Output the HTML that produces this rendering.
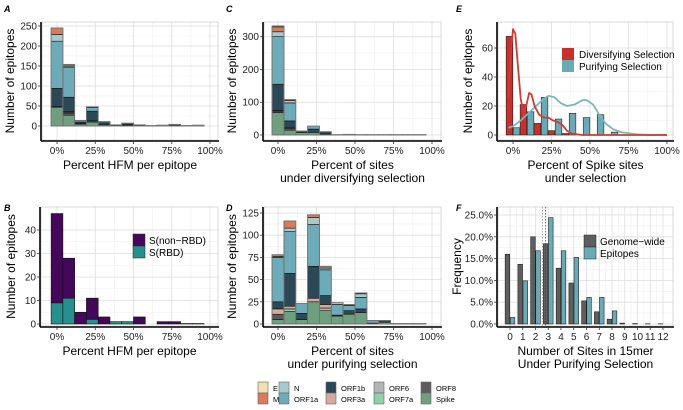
<!DOCTYPE html>
<html><head><meta charset="utf-8">
<style>
body{margin:0;background:#fff;}
svg{display:block;font-family:"Liberation Sans",sans-serif;}
</style></head>
<body>
<svg id="fig" width="683" height="410" viewBox="0 0 683 410" xmlns="http://www.w3.org/2000/svg"></svg>
<script>
// ---------- DATA ----------
const genes = ["Spike","ORF8","ORF7a","ORF6","ORF3a","ORF1b","ORF1a","N","M","E"];
const geneColors = {Spike:"#6f9f7f",ORF8:"#5c5c5c",ORF7a:"#8fcfaa",ORF6:"#b5b5b5",ORF3a:"#d8a89a",ORF1b:"#2c4756",ORF1a:"#6eabb9",N:"#a9cacc",M:"#d97b59",E:"#f0e2b0"};
const binPct = [0,7.69,15.38,23.08,30.77,38.46,46.15,53.85,61.54,69.23,76.92,84.62,92.31];
// Panel A stacks per bin: [Spike,ORF8,ORF7a,ORF6,ORF3a,ORF1b,ORF1a,N,M,E]
const aStacks = [
 [47,2,0,0,0,45,118,17,16,0],
 [27,5,0,2,2,36,75,3,4,0],
 [5,1,0,0,0,4,4,0,0,0],
 [10,3,0,0,0,24,9,2,0,0],
 [3,0,0,0,0,5,3,0,0,0],
 [1,0,0,0,0,2,0,0,0,0],
 [2,0,0,0,0,3,0,0,2,0],
 [1,0,0,0,0,2,0,0,0,0],
 [0,0,0,0,0,1,0,0,0,0],
 [0,0,0,0,0,2,0,0,0,0],
 [1,0,0,0,0,3,0,0,0,0],
 [0,0,0,0,0,1,0,0,0,0],
 [0,0,0,0,0,2,0,0,0,0]];
const cStacks = [
 [68,5,0,0,2,80,145,15,15,3],
 [15,5,0,0,3,20,55,7,3,0],
 [8,0,0,0,0,4,0,0,0,0],
 [8,0,0,0,0,10,9,0,0,0],
 [3,0,0,0,0,7,0,0,0,0],
 [0,0,0,0,0,1,0,0,0,0],
 [0,0,0,0,0,2,0,0,0,0],
 [0,0,0,0,0,1,0,0,0,0],
 [0,0,0,0,0,1,0,0,0,0],
 [0,0,0,0,0,1,0,0,0,0],
 [0,0,0,0,0,1,0,0,0,0],
 [0,0,0,0,0,1,0,0,0,0],
 [0,0,0,0,0,1,0,0,0,0]];
const dStacks = [
 [5,6,0,0,6,8,50,1,2,0],
 [14,0,3,0,3,37,47,4,8,0],
 [5,0,0,0,0,7,11,0,0,0],
 [25,0,0,0,4,36,47,8,3,0],
 [15,0,0,3,4,10,29,2,2,0],
 [9,0,0,0,0,1,12,2,0,0],
 [11,0,0,0,0,4,6,0,1,0],
 [13,0,0,0,0,4,13,4,1,0],
 [1,0,0,0,0,0,3,0,0,0],
 [2,0,0,0,0,2,0,0,0,0],
 [0,0,0,0,0,0.5,0,0,0,0],
 [0,0,0,0,0,0.5,0,0,0,0],
 [0,0,0,0,0,0.5,0,0,0,0]];
const bRBD = [9,11,0,2,0,1,1,0,0,0,0,0,0];
const bNonRBD = [38,17,5,9,3,0,0,3,0,1,1,0.2,0.2];
// Panel E
const eBinPct = [0,9.09,18.18,27.27,36.36,45.45,54.55,63.64];
const eDiv = [68,21,8,3,1,0,0,0];
const ePur = [5,16,26,11,15,12,14,2];
const eDivCurveX = [-3,-1.5,0,1.5,3,5,7,9,10.5,12,14,17,20,23,26,29,32,35,38,45,60,80,100];
const eDivCurveY = [26,55,73,70,50,25,14,22,29,28,20,14,12,12,10,9,7,3,1,0,0,0,0];
const ePurCurveX = [-3,0,5,10,15,20,23,27,31,35,40,45,48,52,56,60,65,70,80,90,100];
const ePurCurveY = [5,6,10,15,20,25,27,26,22,20,21,24,24,21,14,8,4,2,0.5,0,0];
// Panel F
const fCats = ["0","1","2","3","4","5","6","7","8","9","10","11","12"];
const fGenome = [16,13.7,20,18.4,12.8,9.4,5.3,2.8,1.1,0.2,0.1,0.05,0.05];
const fEpitope = [1.5,9.9,16.8,24.4,16.8,15.3,6.1,6.1,3.0,0,0,0,0];
const fMeanLine = [2.55,2.8];
const ticksCount = {A:[0,50,100,150,200,250],C:[0,100,200,300],B:[0,10,20,30,40],D:[0,25,50,75,100,125],E:[0,20,40,60]};
const pctTicks = [0,25,50,75,100];
const fTicks = [0,5,10,15,20,25];

// ---------- helpers ----------
const NS="http://www.w3.org/2000/svg";
const svg=document.getElementById('fig');
function el(tag,attrs,parent,text){const e=document.createElementNS(NS,tag);for(const k in attrs)e.setAttribute(k,attrs[k]);if(text!==undefined)e.textContent=text;(parent||svg).appendChild(e);return e;}

function frame(P,name){
  const g=el('g',{});
  
  
  for(let i=0;i<P.xMajor.length-1;i++){const v=(P.xMajor[i]+P.xMajor[i+1])/2;el('line',{x1:P.x(v),x2:P.x(v),y1:P.top,y2:P.bottom,stroke:'#f0f0f0','stroke-width':0.6},g);}
  for(let i=0;i<P.yMajor.length-1;i++){const v=(P.yMajor[i]+P.yMajor[i+1])/2;el('line',{x1:P.left,x2:P.right,y1:P.y(v),y2:P.y(v),stroke:'#f0f0f0','stroke-width':0.6},g);}
  P.xMajor.forEach(v=>el('line',{x1:P.x(v),x2:P.x(v),y1:P.top,y2:P.bottom,stroke:'#dedede','stroke-width':0.8},g));
  P.yMajor.forEach(v=>el('line',{x1:P.left,x2:P.right,y1:P.y(v),y2:P.y(v),stroke:'#dedede','stroke-width':0.8},g));
  el('rect',{x:P.left,y:P.top,width:P.right-P.left,height:P.bottom-P.top,fill:'none',stroke:'#cfcfcf','stroke-width':0.8},g);
  return g;
}
function axes(P,name,xLabels,yLabels,xt,yt,yOff){
  const g=el('g',{});
  
  
  el('line',{x1:P.left-1,x2:P.right+1,y1:P.bottom+1,y2:P.bottom+1,stroke:'#000','stroke-width':1.6},g);
  el('line',{x1:P.left-1,x2:P.left-1,y1:P.top,y2:P.bottom+1,stroke:'#000','stroke-width':1.6},g);
  P.xMajor.forEach((v,i)=>{el('line',{x1:P.x(v),x2:P.x(v),y1:P.bottom+1,y2:P.bottom+4,stroke:'#333','stroke-width':0.8},g);
    const t=el('text',{x:P.x(v),y:P.bottom+14,'font-size':10,'text-anchor':'middle',fill:'#222'},g,xLabels[i]);
    });
  P.yMajor.forEach((v,i)=>{el('line',{x1:P.left-4,x2:P.left-1,y1:P.y(v),y2:P.y(v),stroke:'#333','stroke-width':0.8},g);
    const t=el('text',{x:P.left-5,y:P.y(v)+3.5,'font-size':10,'text-anchor':'end',fill:'#222'},g,yLabels[i]);
    });
  xt.forEach((s,i)=>{const t=el('text',{x:(P.left+P.right)/2,y:P.bottom+29+i*13,'font-size':12,'text-anchor':'middle',fill:'#000'},g,s);
    });
  const cy=(P.top+P.bottom)/2, cx=P.left-(yOff||28);
  const t=el('text',{x:cx,y:cy,'font-size':12,'text-anchor':'middle',fill:'#000',transform:`rotate(-90 ${cx} ${cy})`},g,yt);
  
}
function letter(x,y,s){const t=el('text',{x:x,y:y,'font-size':9,'font-weight':'bold','font-style':'italic'},svg,s);
  }
function mkP(left,right,top,bottom,x0,x1,xv0,xv1,y0,y1,yv0,yv1,xMajor,yMajor){
  return {left,right,top,bottom,xMajor,yMajor,
    x:v=>x0+(v-xv0)*(x1-x0)/(xv1-xv0), y:v=>y0+(v-yv0)*(y1-y0)/(yv1-yv0)};
}
const pctLabels=pctTicks.map(v=>v+'%');
function stacked(P,stacks,name){
  const g=el('g',{});
  
  
  const w=7.69;
  stacks.forEach((s,i)=>{let acc=0;const xl=P.x(binPct[i]-w/2),xr=P.x(binPct[i]+w/2);
    s.forEach((v,j)=>{if(v<=0)return;const r=el('rect',{x:xl,y:P.y(acc+v),width:xr-xl,height:P.y(acc)-P.y(acc+v),fill:geneColors[genes[j]],stroke:'#111','stroke-width':0.6},g);
      acc+=v;});
    if(acc>0) el('rect',{x:xl,y:P.y(acc),width:xr-xl,height:P.y(0)-P.y(acc),fill:'none',stroke:'#777','stroke-width':0.9},g);
  });
}

// ---------- Panel A ----------
letter(4,12,'A');
const PA=mkP(42,218,22,140,57,210,0,100,126,26,0,250,pctTicks,ticksCount.A);
frame(PA,'panel-a');stacked(PA,aStacks,'panel-a');
axes(PA,'panel-a',pctLabels,ticksCount.A,['Percent HFM per epitope'],'Number of epitopes');

// ---------- Panel C ----------
letter(226,12,'C');
const PC=mkP(264,441,22,140,278,432,0,100,135,36.7,0,300,pctTicks,ticksCount.C);
frame(PC,'panel-c');stacked(PC,cStacks,'panel-c');
axes(PC,'panel-c',pctLabels,ticksCount.C,['Percent of sites','under diversifying selection'],'Number of epitopes');

// ---------- Panel E ----------
letter(456,12,'E');
const PE=mkP(498,673,22,140,513,667,0,100,135,48,0,60,pctTicks,ticksCount.E);
frame(PE,'panel-e');
(function(){
  const g=el('g',{});
  const bw=4.3, off=2.3;
  eBinPct.forEach((b,i)=>{
    if(eDiv[i]>0){const r=el('rect',{x:PE.x(b-off-bw/2),y:PE.y(eDiv[i]),width:PE.x(bw)-PE.x(0),height:PE.y(0)-PE.y(eDiv[i]),fill:'#c8302c',stroke:'#222','stroke-width':0.6},g);
      }
    if(ePur[i]>0){const r=el('rect',{x:PE.x(b+off-bw/2),y:PE.y(ePur[i]),width:PE.x(bw)-PE.x(0),height:PE.y(0)-PE.y(ePur[i]),fill:'#6aaab6',stroke:'#222','stroke-width':0.6},g);
      }
  });
  const line=(xs,ys,c,n)=>{const p=el('polyline',{points:xs.map((x,i)=>PE.x(x)+','+PE.y(ys[i])).join(' '),fill:'none',stroke:c,'stroke-width':1.8,'stroke-linejoin':'round'},g);
    };
  line(ePurCurveX,ePurCurveY,'#7ab6c0','density-purifying');
  line(eDivCurveX,eDivCurveY,'#d23a33','density-diversifying');
  const lg=el('g',{});
  el('rect',{x:562,y:48,width:12,height:12,fill:'#c8302c'},lg);
  el('rect',{x:562,y:60,width:12,height:12,fill:'#6aaab6'},lg);
  el('text',{x:579,y:58,'font-size':10},lg,'Diversifying Selection');
  el('text',{x:579,y:70,'font-size':10},lg,'Purifying Selection');
})();
axes(PE,'panel-e',pctLabels,ticksCount.E,['Percent of Spike sites','under selection'],'Number of epitopes',26);

// ---------- Panel B ----------
letter(4,211,'B');
const PB=mkP(41,218,207,326,57,210,0,100,324,230,0,40,pctTicks,ticksCount.B);
frame(PB,'panel-b');
(function(){
  const g=el('g',{});
  binPct.forEach((b,i)=>{const xl=PB.x(b-3.845),w=PB.x(7.69)-PB.x(0);
    if(bRBD[i]>0){const r=el('rect',{x:xl,y:PB.y(bRBD[i]),width:w,height:PB.y(0)-PB.y(bRBD[i]),fill:'#27908c',stroke:'#111','stroke-width':0.6},g);
      }
    if(bNonRBD[i]>0){const r=el('rect',{x:xl,y:PB.y(bRBD[i]+bNonRBD[i]),width:w,height:PB.y(bRBD[i])-PB.y(bRBD[i]+bNonRBD[i]),fill:'#45075a',stroke:'#111','stroke-width':0.6},g);
      }
  });
  const lg=el('g',{});
  el('rect',{x:133,y:234,width:12,height:12,fill:'#45075a',stroke:'#222','stroke-width':0.5},lg);
  el('rect',{x:133,y:246,width:12,height:12,fill:'#27908c',stroke:'#222','stroke-width':0.5},lg);
  el('text',{x:149,y:244,'font-size':10},lg,'S(non\u2212RBD)');
  el('text',{x:149,y:256,'font-size':10},lg,'S(RBD)');
})();
axes(PB,'panel-b',pctLabels,ticksCount.B,['Percent HFM per epitope'],'Number of epitopes',26);

// ---------- Panel D ----------
letter(226,211,'D');
const PD=mkP(264,441,207,326,278,432,0,100,324,213,0,125,pctTicks,ticksCount.D);
frame(PD,'panel-d');stacked(PD,dStacks,'panel-d');
axes(PD,'panel-d',pctLabels,ticksCount.D,['Percent of sites','under purifying selection'],'Number of epitopes');

// ---------- Panel F ----------
letter(456,211,'F');
const PF=mkP(498,673,207,326,510,663,0,12,324,215,0,25,fCats.map((c,i)=>i),fTicks);
frame(PF,'panel-f');
(function(){
  const g=el('g',{});
  const bw=0.36;
  fCats.forEach((c,i)=>{
    const r1=el('rect',{x:PF.x(i-bw-0.02),y:PF.y(fGenome[i]),width:PF.x(bw)-PF.x(0),height:PF.y(0)-PF.y(fGenome[i]),fill:'#5e5e5e',stroke:'#222','stroke-width':0.6},g);
    
    if(fEpitope[i]>0){const r2=el('rect',{x:PF.x(i+0.02),y:PF.y(fEpitope[i]),width:PF.x(bw)-PF.x(0),height:PF.y(0)-PF.y(fEpitope[i]),fill:'#6aaab6',stroke:'#222','stroke-width':0.6},g);
      }
  });
  fMeanLine.forEach((v,k)=>{const l=el('line',{x1:PF.x(v),x2:PF.x(v),y1:PF.top,y2:PF.bottom,stroke:k?'#444':'#999','stroke-width':0.8,'stroke-dasharray':'1.5,1.5'},g);
    });
  const lg=el('g',{});
  el('rect',{x:584,y:235,width:12,height:12,fill:'#5e5e5e',stroke:'#222','stroke-width':0.5},lg);
  el('rect',{x:584,y:247,width:12,height:12,fill:'#6aaab6',stroke:'#222','stroke-width':0.5},lg);
  el('text',{x:600,y:245,'font-size':10},lg,'Genome\u2212wide');
  el('text',{x:600,y:257,'font-size':10},lg,'Epitopes');
})();
axes(PF,'panel-f',fCats,fTicks.map(v=>v.toFixed(1)+'%'),['Number of Sites in 15mer','Under Purifying Selection'],'Frequency',37);

// ---------- gene legend ----------
(function(){
  const g=el('g',{});
  const cols=[[258,'E','M'],[279,'N','ORF1a'],[326,'ORF1b','ORF3a'],[374,'ORF6','ORF7a'],[421,'ORF8','Spike']];
  cols.forEach(c=>{[c[1],c[2]].forEach((n,k)=>{
    const r=el('rect',{x:c[0],y:382+k*11,width:10,height:11,fill:geneColors[n],stroke:'#666','stroke-width':0.6},g);
    
    el('text',{x:c[0]+15,y:391+k*11,'font-size':7.5},g,n);
  });});
})();
</script>
</body></html>
